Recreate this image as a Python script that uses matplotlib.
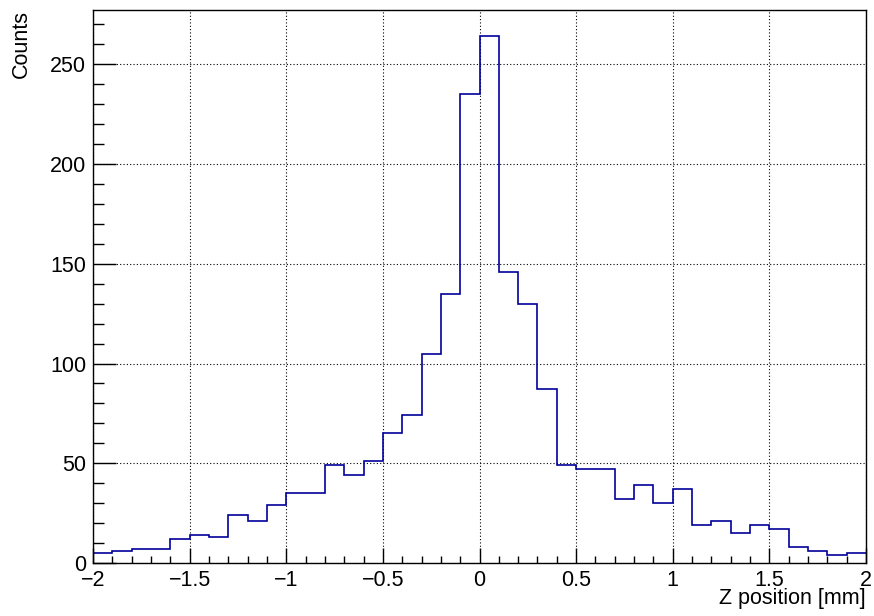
import numpy as np
import matplotlib.pyplot as plt
from matplotlib.ticker import MultipleLocator

# bin contents, 40 bins of 0.1 mm from -2 to 2
counts = [5, 6, 7, 7, 12, 14, 13, 24, 21, 29,
          35, 35, 49, 44, 51, 65, 74, 105, 135, 235,
          264, 146, 130, 87, 49, 47, 47, 32, 39, 30,
          37, 19, 21, 15, 19, 17, 8, 6, 4, 5]
x_lo, x_hi = -2.0, 2.0
x_ticks = [-2, -1.5, -1, -0.5, 0, 0.5, 1, 1.5, 2]
x_labels = ["\u22122", "\u22121.5", "\u22121", "\u22120.5", "0", "0.5", "1", "1.5", "2"]
y_ticks = [0, 50, 100, 150, 200, 250]
y_labels = ["0", "50", "100", "150", "200", "250"]

plt.rcParams['font.family'] = ['Liberation Sans', 'DejaVu Sans']
plt.rcParams['font.size'] = 15.5

fig = plt.figure(figsize=(8.74, 6.16), dpi=100)
ax = fig.add_axes([93 / 874, 53 / 616, 773 / 874, 553 / 616])

edges = np.linspace(x_lo, x_hi, len(counts) + 1)
ax.stairs(counts, edges, baseline=None, color='#000099', linewidth=1.2)

ax.set_xlim(x_lo, x_hi)
ax.set_ylim(0, max(counts) * 1.05)

ax.set_xticks(x_ticks)
ax.set_xticklabels(x_labels)
ax.set_yticks(y_ticks)
ax.set_yticklabels(y_labels)
ax.xaxis.set_minor_locator(MultipleLocator(0.1))
ax.yaxis.set_minor_locator(MultipleLocator(10))

# ROOT-like ticks: inside, left and bottom only
ax.tick_params(which='both', direction='in', top=False, right=False, width=1, color='black')
ax.tick_params(axis='x', which='major', length=11, pad=5)
ax.tick_params(axis='x', which='minor', length=5.4)
ax.tick_params(axis='y', which='major', length=16.5, pad=5)
ax.tick_params(axis='y', which='minor', length=8)

ax.grid(True, which='major', color='black', linestyle=(0, (1, 2)), linewidth=0.8)
ax.set_axisbelow(True)
for sp in ax.spines.values():
    sp.set_linewidth(1)

fig.text(0.025, 0.984, "Counts", rotation=90, ha='center', va='top')
fig.text(866 / 874, 0.019, "Z position [mm]", ha='right', va='baseline')

fig.savefig("out.png", dpi=100)
